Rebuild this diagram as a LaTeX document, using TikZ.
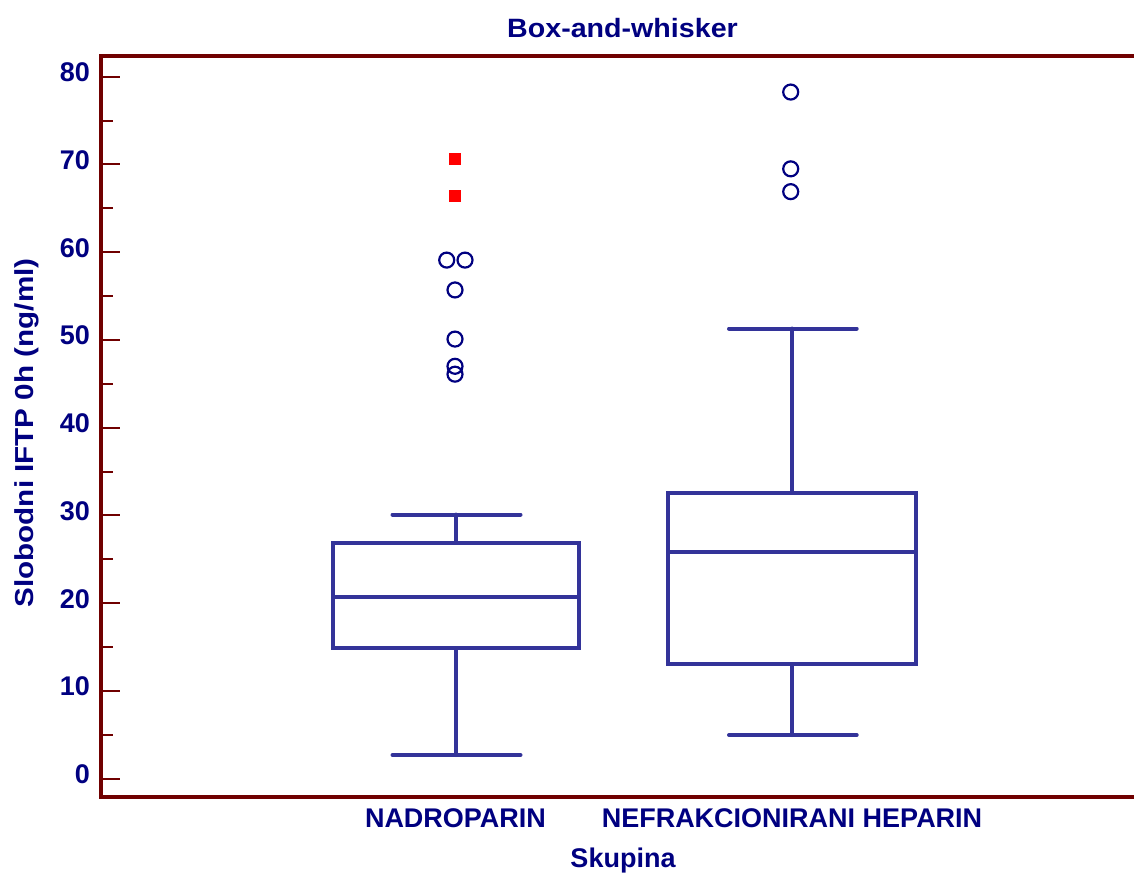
\documentclass[tikz,border=0pt]{standalone}
\usepackage{fontspec}
\setmainfont{Liberation Sans}
\definecolor{axisred}{RGB}{112,0,0}
\definecolor{navy}{RGB}{0,0,128}
\definecolor{boxblue}{RGB}{51,51,153}

\begin{document}
\begin{tikzpicture}[x=1pt, y=-1pt,
	lab/.style={text=navy, font=\bfseries\fontsize{27}{30}\selectfont, inner sep=0pt},
	boxl/.style={draw=boxblue, line width=4pt},
	outl/.style={circle, draw=navy, line width=2.2pt, minimum size=15pt, inner sep=0pt},
	far/.style={rectangle, fill=red, minimum size=12pt, inner sep=0pt}]
	\useasboundingbox (0,0) rectangle (1134,872);
	%%%	Okvir
	\draw[axisred, line width=4pt] (1134,56) -- (101,56) -- (101,797) -- (1134,797);
	\node[lab, anchor=base, font=\bfseries\fontsize{26.5}{30}\selectfont\addfontfeature{FakeStretch=1.08}] (naslov) at (622.5,37.3) {Box-and-whisker};
	\node[lab, anchor=base, rotate=90, font=\bfseries\fontsize{26}{30}\selectfont\addfontfeature{FakeStretch=1.14}] (yos) at (33,433) {Slobodni IFTP 0h (ng/ml)};
	\node[lab, anchor=base] (kat1) at (455.5,827.3) {NADROPARIN};
	\node[lab, anchor=base] (kat2) at (792,827.3) {NEFRAKCIONIRANI HEPARIN};
	\node[lab, anchor=base] (xos) at (623,867.7) {Skupina};
	%%%	Podatki
	\begin{scope}[shift={(0,778.7)}, y=8.775pt]
	% Os y
	\foreach \v in {0,10,...,80}{
		\draw[axisred, line width=2pt] (101,\v) -- (120,\v);
		\node[lab, anchor=base east, yshift=-5pt] (t\v) at (90,\v) {\v};
	}
	\foreach \v in {5,15,...,75}
		\draw[axisred, line width=2pt] (101,\v) -- (113,\v);
	
	% Nadroparin
	\draw[boxl] (332.5,14.86) rectangle (579.3,26.9);
	\draw[boxl] (332.5,20.7) -- (579.3,20.7);
	\draw[boxl, line cap=round] (455.5,26.9) -- (455.5,30.1) (392.5,30.1) -- (520.5,30.1);
	\draw[boxl, line cap=round] (455.5,14.86) -- (455.5,2.7) (392.5,2.7) -- (520.5,2.7);
	\node[far] (r1) at (455,70.6) {};
	\node[far] (r2) at (455,66.4) {};
	\node[outl] (a1) at (446.7,59.1) {};
	\node[outl] (a2) at (465,59.1) {};
	\node[outl] (a3) at (455,55.7) {};
	\node[outl] (a4) at (455,50.1) {};
	\node[outl] (a5) at (455,47.0) {};
	\node[outl] (a6) at (455,46.1) {};
	
	% Nefrakcionirani heparin
	\draw[boxl] (668,13.07) rectangle (916,32.6);
	\draw[boxl] (668,25.8) -- (916,25.8);
	\draw[boxl, line cap=round] (792.3,32.6) -- (792.3,51.3) (729,51.3) -- (856.7,51.3);
	\draw[boxl, line cap=round] (792.3,13.07) -- (792.3,4.98) (729,4.98) -- (856.7,4.98);
	\node[outl] (b1) at (790.7,78.25) {};
	\node[outl] (b2) at (790.7,69.5) {};
	\node[outl] (b3) at (790.7,66.9) {};
	\end{scope}
\end{tikzpicture}
\end{document}
